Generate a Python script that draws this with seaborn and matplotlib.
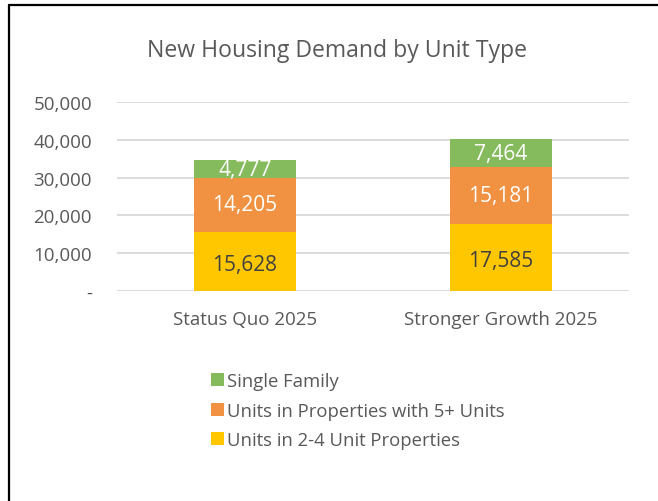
import matplotlib
matplotlib.use("Agg")
import matplotlib.pyplot as plt
from matplotlib.lines import Line2D
from matplotlib.patches import Patch
import seaborn as sns
import numpy as np
import pandas as pd

categories = ["Status Quo 2025", "Stronger Growth 2025"]
units_2_4 = [15628, 17585]
units_5plus = [14205, 15181]
single_family = [4777, 7464]
series_names = ["Single Family", "Units in Properties with 5+ Units", "Units in 2-4 Unit Properties"]
yticks = [0, 10000, 20000, 30000, 40000, 50000]
ytick_labels = ["-", "10,000", "20,000", "30,000", "40,000", "50,000"]

c_green = "#85BB5D"
c_orange = "#F19142"
c_yellow = "#FFC700"
text_gray = "#595959"

sns.set_theme(style="white")
plt.rcParams['font.family'] = ['Open Sans', 'DejaVu Sans']

fig = plt.figure(figsize=(6.58, 5.02), dpi=100)
ax = fig.add_axes([117/658, 1-291.5/502, (629-117)/658, (291.5-103.3)/502])

y1 = np.array(units_2_4)
y2 = y1 + np.array(units_5plus)
y3 = y2 + np.array(single_family)

df = pd.DataFrame({"cat": categories, "top": y3, "mid": y2, "bot": y1})
for col, color in [("top", c_green), ("mid", c_orange), ("bot", c_yellow)]:
    sns.barplot(data=df, x="cat", y=col, color=color, width=0.4, ax=ax,
                saturation=1, linewidth=0, zorder=3)

ax.set_xlim(-0.5, 1.5)
ax.set_ylim(0, 50000)
ax.set_yticks(yticks)
ax.set_yticklabels(ytick_labels)
ax.set_xlabel("")
ax.set_ylabel("")
for s in ax.spines.values():
    s.set_visible(False)
ax.grid(axis="y", color="#D9D9D9", linewidth=1.3, zorder=0)
ax.grid(axis="x", visible=False)
ax.tick_params(axis="y", length=0, pad=18, labelsize=13.5, labelcolor=text_gray)
ax.tick_params(axis="x", length=0, pad=14, labelsize=13.5, labelcolor=text_gray)

# data labels
for i in range(len(categories)):
    ax.text(i, y1[i]/2 - 800, f"{units_2_4[i]:,}", ha="center", va="center",
            fontsize=15, color="#404040", zorder=5)
    ax.text(i, (y1[i]+y2[i])/2, f"{units_5plus[i]:,}", ha="center", va="center",
            fontsize=15, color="white", zorder=5)
    ax.text(i, (y2[i]+y3[i])/2, f"{single_family[i]:,}", ha="center", va="center",
            fontsize=15, color="white", zorder=5)

fig.text(337/658, 1-51/502, "New Housing Demand by Unit Type", ha="center", va="center",
         fontsize=16.6, color=text_gray)

handles = [Patch(facecolor=c, edgecolor="none") for c in (c_green, c_orange, c_yellow)]
leg = fig.legend(handles, series_names, loc="upper left",
                 bbox_to_anchor=(204/658, 1-366/502), frameon=False,
                 fontsize=13.3, handlelength=0.7, handleheight=0.7,
                 handletextpad=0.12, labelspacing=0.62, borderaxespad=0)
for t in leg.get_texts():
    t.set_color(text_gray)

# cropped border (top and left)
fig.add_artist(Line2D([9/658, 9/658], [0, 1-6/502], transform=fig.transFigure,
                      color="black", linewidth=1.6))
fig.add_artist(Line2D([9/658, 1], [1-6/502, 1-6/502], transform=fig.transFigure,
                      color="black", linewidth=1.6))

fig.savefig("out.png", dpi=100)
